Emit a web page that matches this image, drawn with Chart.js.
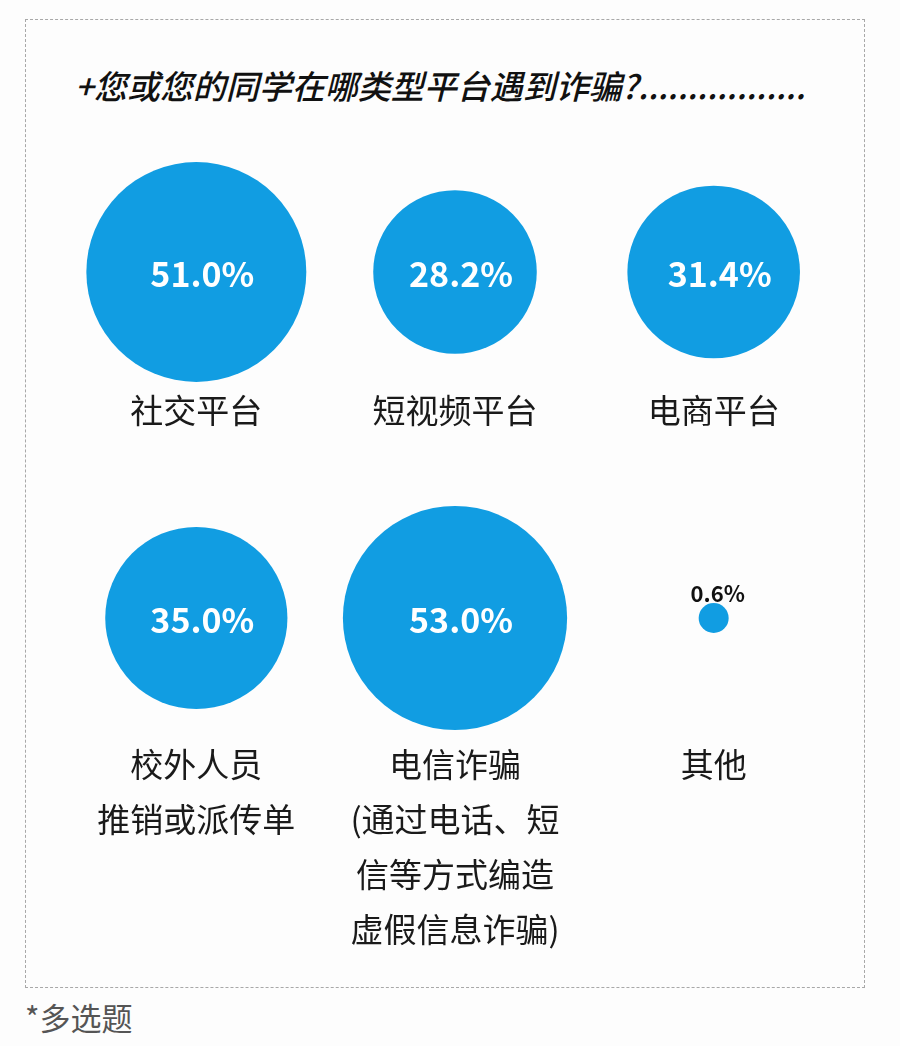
<!DOCTYPE html>
<html>
<head>
<meta charset="utf-8">
<script src="https://cdn.jsdelivr.net/npm/chart.js@4.4.0/dist/chart.umd.min.js"></script>
<style>
  html, body { margin: 0; padding: 0; background: #fdfdfd; }
  body { width: 900px; height: 1046px; position: relative; overflow: hidden;
         font-family: "Noto Sans CJK SC", "Noto Sans", sans-serif; }
  #frame { position: absolute; left: 25px; top: 19px; width: 840px; height: 969px;
           box-sizing: border-box; border: 1px dashed #a8a8a8; }
  #title { position: absolute; left: 75px; top: 64px; font-size: 33px; line-height: 42px;
           font-style: italic; font-weight: 500; color: #111; white-space: nowrap; }
  #note { position: absolute; left: 25px; top: 996px; font-size: 31px; line-height: 42px; color: #555; }
  #chart { position: absolute; left: 0; top: 0; }
</style>
</head>
<body>
<div id="frame"></div>
<div id="title">+您或您的同学在哪类型平台遇到诈骗?.................</div>
<div id="note">*多选题</div>
<canvas id="chart" width="900" height="1046"></canvas>
<script>
var categories = [
  ['社交平台'],
  ['短视频平台'],
  ['电商平台'],
  ['校外人员', '推销或派传单'],
  ['电信诈骗', '(通过电话、短', '信等方式编造', '虚假信息诈骗)'],
  ['其他']
];
var shares = [51.0, 28.2, 31.4, 35.0, 53.0, 0.6];

var points = [];
for (var i = 0; i < shares.length; i++) {
  points.push({ x: i % 3 + 1, y: Math.floor(i / 3) + 1, v: shares[i] });
}

var labelPlugin = {
  id: 'bubbleLabels',
  afterDatasetsDraw: function(chart) {
    var ctx = chart.ctx;
    var meta = chart.getDatasetMeta(0);
    ctx.save();
    ctx.textAlign = 'center';
    ctx.textBaseline = 'middle';
    meta.data.forEach(function(el, i) {
      var p = points[i];
      var r = el.options.radius;
      var txt = p.v.toFixed(1) + '%';
      if (r > 40) {
        ctx.fillStyle = '#ffffff';
        ctx.font = 'bold 34px "Noto Sans CJK SC", "Noto Sans", sans-serif';
        ctx.fillText(txt, el.x + 6, el.y + 2);
      } else {
        ctx.fillStyle = '#111111';
        ctx.font = 'bold 22px "Noto Sans CJK SC", "Noto Sans", sans-serif';
        ctx.fillText(txt, el.x + 4, el.y - 24);
      }
      var rowY = chart.scales.y.getPixelForValue(p.y);
      var offset = p.y === 1 ? 138 : 146;
      ctx.fillStyle = '#1a1a1a';
      ctx.font = '33px "Noto Sans CJK SC", sans-serif';
      categories[i].forEach(function(line, j) {
        ctx.fillText(line, el.x, rowY + offset + j * 55);
      });
    });
    ctx.restore();
  }
};

new Chart(document.getElementById('chart'), {
  type: 'bubble',
  data: {
    datasets: [{
      data: points,
      backgroundColor: '#119de2',
      borderColor: '#119de2',
      borderWidth: 0,
      clip: false,
      radius: function(c) {
        var v = c.raw.v;
        return Math.max(15, 15.4 * Math.sqrt(v));
      }
    }]
  },
  options: {
    responsive: false,
    animation: false,
    layout: { autoPadding: false, padding: { left: 67, right: 57, top: 99, bottom: 255 } },
    plugins: { legend: { display: false }, tooltip: { enabled: false } },
    scales: {
      x: { type: 'linear', min: 0.5, max: 3.5, display: false },
      y: { type: 'linear', min: 0.5, max: 2.5, reverse: true, display: false }
    }
  },
  plugins: [labelPlugin]
});
</script>
</body>
</html>
